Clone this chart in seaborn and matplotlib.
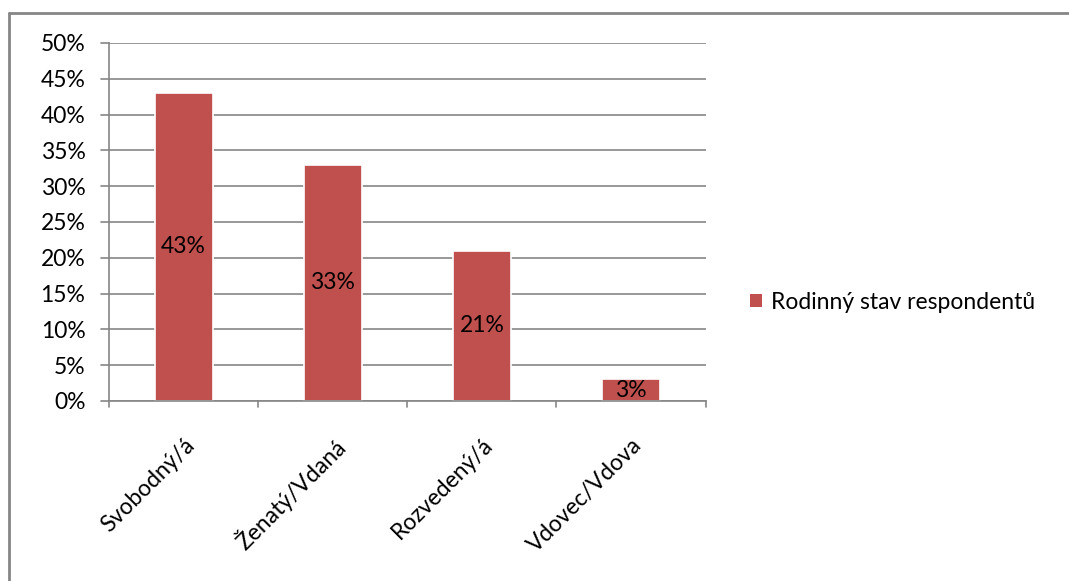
import matplotlib
matplotlib.use("Agg")
import matplotlib.pyplot as plt
import seaborn as sns
import pandas as pd
from matplotlib.lines import Line2D
from matplotlib.patches import Patch

categories = ["Svobodný/á", "Ženatý/Vdaná", "Rozvedený/á", "Vdovec/Vdova"]
values = [43, 33, 21, 3]
series_name = "Rodinný stav respondentů"
y_ticks = [0, 5, 10, 15, 20, 25, 30, 35, 40, 45, 50]

bar_color = "#C0504D"
grid_color = "#868686"
fs = 16.5

sns.set_theme(style="white")
plt.rcParams["font.family"] = ["Lato", "DejaVu Sans"]
plt.rcParams["text.color"] = "black"
plt.rcParams["xtick.color"] = "black"
plt.rcParams["ytick.color"] = "black"

df = pd.DataFrame({"stav": categories, "podil": values})

fig = plt.figure(figsize=(10.69, 5.81), dpi=100)
ax = fig.add_axes([0.102, 0.310, 0.558, 0.616])

sns.barplot(data=df, x="stav", y="podil", color=bar_color, saturation=1,
            width=0.39, edgecolor="white", linewidth=1.2, ax=ax, zorder=3)

ax.set_ylim(0, 50)
ax.set_xlim(-0.5, len(categories) - 0.5)
ax.set_yticks(y_ticks)
ax.set_yticklabels([f"{t}%" for t in y_ticks], fontsize=fs)
ax.yaxis.grid(True, color=grid_color, linewidth=1.2, zorder=0)
ax.set_xlabel("")
ax.set_ylabel("")

ax.set_xticks([i for i in range(len(categories))])
ax.set_xticklabels(categories, rotation=45, ha="right", rotation_mode="anchor",
                   fontsize=fs)
ax.tick_params(axis="x", length=0, pad=24)
ax.tick_params(axis="y", length=0, pad=17)

# category boundary ticks and value-axis ticks
for b in range(len(categories) + 1):
    ax.plot([b - 0.5, b - 0.5], [0, -0.9], color=grid_color, lw=1.2,
            clip_on=False, zorder=4)
for t in y_ticks:
    ax.plot([-0.5, -0.555], [t, t], color=grid_color, lw=1.2, clip_on=False)

for side in ["top", "right"]:
    ax.spines[side].set_visible(False)
for side in ["left", "bottom"]:
    ax.spines[side].set_color(grid_color)
    ax.spines[side].set_linewidth(1.2)
    ax.spines[side].set_zorder(5)

# value labels centred in each bar
for i, v in enumerate(values):
    ax.text(i, v / 2, f"{v}%", ha="center", va="center", fontsize=fs,
            color="black", zorder=6)

# legend
handle = Patch(facecolor=bar_color, edgecolor="none")
fig.legend([handle], [series_name], loc="center left",
           bbox_to_anchor=(0.682, 0.48), frameon=False, fontsize=fs,
           handlelength=0.55, handleheight=0.55, handletextpad=0.4)

# chart frame
fig.add_artist(Line2D([0.0085, 1.0], [1 - 12.5 / 581, 1 - 12.5 / 581],
                      color=grid_color, lw=2, transform=fig.transFigure))
fig.add_artist(Line2D([0.0085, 0.0085], [0.0, 1 - 12.5 / 581],
                      color=grid_color, lw=2, transform=fig.transFigure))

fig.savefig("out.png", dpi=100, facecolor="white")
